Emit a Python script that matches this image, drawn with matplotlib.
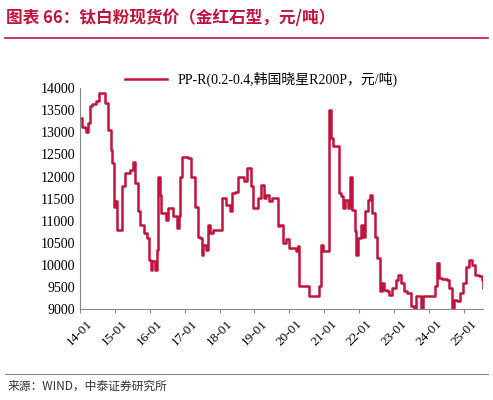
import matplotlib.pyplot as plt
from matplotlib.lines import Line2D

plt.rcParams['font.family'] = ['Liberation Serif', 'Noto Sans CJK SC']

# years since 2014-01
t = [0.00, .05, .14, .19, .24, .30, .36, .46, .55, .65, .71, .81, .88, .93, .97, 1.02, 1.07, 1.16, 1.22, 1.29,
     1.43, 1.52, 1.58, 1.67, 1.73, 1.83, 1.92, 1.97, 2.03, 2.08, 2.14, 2.21, 2.25, 2.29, 2.33, 2.46, 2.53, 2.62,
     2.67, 2.74, 2.78, 2.84, 2.88, 2.93, 3.10, 3.19, 3.29, 3.38, 3.43, 3.50, 3.54, 3.62, 3.67, 3.73, 3.81, 4.00,
     4.08, 4.19, 4.30, 4.36, 4.43, 4.52, 4.67, 4.71, 4.78, 4.86, 4.90, 4.95, 5.05, 5.10, 5.19, 5.26, 5.33, 5.43,
     5.50, 5.62, 5.67, 5.73, 5.81, 5.90, 5.98, 6.10, 6.19, 6.24, 6.27, 6.48, 6.55, 6.76, 6.86, 6.90, 6.97, 7.10,
     7.14, 7.19, 7.24, 7.33, 7.41, 7.48, 7.54, 7.60, 7.67, 7.73, 7.79, 7.89, 7.92, 7.98, 8.06, 8.11, 8.17, 8.24,
     8.31, 8.38, 8.46, 8.52, 8.59, 8.65, 8.71, 8.81, 8.86, 8.95, 9.05, 9.11, 9.19, 9.29, 9.38, 9.48, 9.57, 9.62,
     9.70, 9.76, 9.83, 10.10, 10.17, 10.24, 10.30, 10.38, 10.52, 10.57, 10.65, 10.71, 10.81, 10.90, 10.97, 11.07,
     11.14, 11.24, 11.31, 11.43, 11.52, 11.55]
price = [13320, 13130, 13100, 13000, 13210, 13590, 13650, 13700, 13890, 13900, 13660, 13060, 12600, 12300, 11320,
         11440, 10800, 10800, 11780, 12090, 12140, 12340, 11850, 11210, 10910, 10720, 10610, 10120, 9890, 10080,
         9890, 10340, 12000, 11590, 11170, 11020, 11290, 11290, 11100, 11100, 10830, 11100, 12000, 12440, 12420,
         12000, 11320, 10640, 10610, 10230, 10460, 10340, 10910, 10720, 10800, 10800, 11510, 11360, 11210, 11620,
         11640, 12000, 12000, 11890, 12190, 12190, 11780, 11290, 11290, 11510, 11810, 11510, 11590, 11440, 11510,
         11510, 10870, 10910, 10490, 10580, 10380, 10380, 10310, 10420, 9520, 9520, 9300, 9300, 9520, 10460,
         10310, 10310, 13510, 12870, 12680, 12680, 11620, 11550, 11290, 11470, 11290, 12000, 11250, 10760, 10230,
         10610, 10910, 10640, 11210, 11470, 11590, 11170, 10640, 10150, 9400, 9580, 9430, 9400, 9320, 9480, 9660,
         9780, 9580, 9400, 9360, 9060, 9000, 9290, 9300, 9000, 9290, 9300, 9520, 10040, 9700, 9680, 9660, 9480,
         9000, 9210, 9170, 9360, 9580, 9960, 10110, 10000, 9780, 9740, 9660, 9480]
xlabels = ['14-01', '15-01', '16-01', '17-01', '18-01', '19-01', '20-01', '21-01', '22-01', '23-01', '24-01', '25-01']

red = '#C0143C'
fig = plt.figure(figsize=(4.93, 4), dpi=100)
ax = fig.add_axes([0.162, 0.2275, 0.818, 0.552])
ax.plot(t, price, color=red, lw=1.8, drawstyle='steps-post', label='PP-R(0.2-0.4,韩国晓星R200P，元/吨)')
ax.set_xlim(0, 11.55)
ax.set_ylim(9000, 14000)
ax.set_yticks(range(9000, 14001, 500))
ax.set_xticks(range(len(xlabels)))
ax.set_xticklabels(xlabels, rotation=45, fontsize=9.5)
ax.tick_params(axis='y', labelsize=10, length=0)
ax.tick_params(axis='x', length=3, color='#888888')
for s in ['top', 'right']:
    ax.spines[s].set_visible(False)
for s in ['left', 'bottom']:
    ax.spines[s].set_color('#888888')
ax.legend(loc='lower center', bbox_to_anchor=(0.45, 0.98), frameon=False, fontsize=10,
          handlelength=3, borderaxespad=0)

fig.text(0.012, 0.955, '图表 66：钛白粉现货价（金红石型，元/吨）', color=red, fontsize=12,
         weight='bold', va='center', family=['Noto Sans CJK SC'])
fig.add_artist(Line2D([0.01, 0.99], [0.905, 0.905], color=red, lw=1.2))
fig.add_artist(Line2D([0.01, 0.99], [0.065, 0.065], color='#888888', lw=0.8))
fig.text(0.015, 0.035, '来源：WIND，中泰证券研究所', fontsize=8.5, va='center', color='#333333',
         family=['Noto Sans CJK SC'])
fig.savefig('out.png')
